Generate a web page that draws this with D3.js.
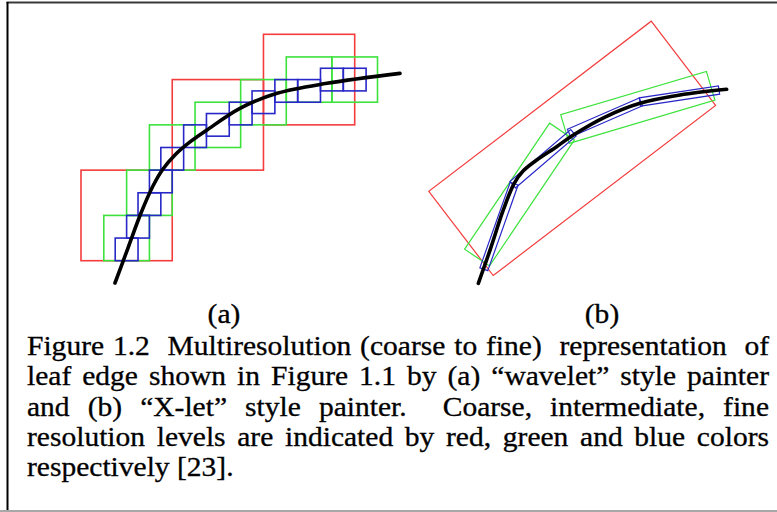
<!DOCTYPE html>
<html>
<head>
<meta charset="utf-8">
<script src="https://cdn.jsdelivr.net/npm/d3@7"></script>
<style>
  html, body { margin: 0; padding: 0; background: #fff; }
  svg { display: block; }
  .cap { font-family: "Liberation Serif", "Times New Roman", serif; }
</style>
</head>
<body>
<svg id="fig" width="777" height="512"></svg>
<script>
// ---- Panel (a): dyadic cells, lower-left corner in fine-grid units ----
const coarseCells = [[0, 0], [8, 8], [16, 12]];
const midCells = [[2, 0], [4, 4], [6, 8], [10, 10], [14, 12], [18, 14], [22, 14]];
const fineCells = [[3, 0], [4, 2], [5, 4], [6, 6], [7, 8], [9, 10], [11, 11],
                   [13, 12], [15, 13], [17, 14], [19, 14], [21, 15], [23, 15]];
const cellSizes = [8, 4, 2];            // coarse, intermediate, fine
const edgeA = [[2.98, -1.97], [4.12, 1.12], [5.26, 4.21], [6.31, 6.6], [7.19, 8.1],
               [8.24, 9.34], [9.56, 10.49], [11.05, 11.55], [13.94, 13.46],
               [17.19, 14.79], [21.57, 15.67], [27.97, 16.55]];

// ---- Panel (b): oriented boxes [cx, cy, length, width, angle in degrees] ----
const coarseBoxes = [[13.41, 12.48, 24.67, 9.34, 37.4]];
const midBoxes = [[8.77, 8.41, 13.39, 2.64, 56], [19.19, 16.09, 13.39, 2.64, 16.5]];
const fineBoxes = [[6.96, 5.6, 8.0, 0.74, 70.5], [10.84, 11.56, 7.05, 0.74, 40.5],
                   [16.3, 15.2, 6.9, 0.74, 23.5], [22.86, 17.09, 7.05, 0.74, 8.6]];
const edgeB = [[5.14, 0.59], [6.17, 3.52], [7.34, 7.05], [8.3, 9.4], [9.1, 10.5],
               [10.28, 11.45], [12.04, 12.63], [13.51, 13.66], [16.3, 15.24],
               [19.38, 16.45], [22.9, 17.18], [27.02, 17.68]];

// ---- Text ----
const panelLabels = ["(a)", "(b)"];
const captionLines = [
  "Figure 1.2  Multiresolution (coarse to fine)  representation  of",
  "leaf edge shown in Figure 1.1 by (a) \u201cwavelet\u201d style painter",
  "and (b) \u201cX-let\u201d style painter.  Coarse, intermediate, fine",
  "resolution levels are indicated by red, green and blue colors",
  "respectively [23]."
];

const levelColors = ["#f43c3c", "#3de23d", "#2828c8"];

const svg = d3.select("#fig");

// page frame
svg.append("line").attr("x1", 0).attr("x2", 777).attr("y1", 511).attr("y2", 511)
  .attr("stroke", "#a8a8a8").attr("stroke-width", 2);
svg.append("line").attr("x1", 6.5).attr("x2", 777).attr("y1", 2.5).attr("y2", 2.5)
  .attr("stroke", "#3a3a3a").attr("stroke-width", 2);
svg.append("line").attr("x1", 7.5).attr("x2", 7.5).attr("y1", 2).attr("y2", 510)
  .attr("stroke", "#000").attr("stroke-width", 2);

// ---- Panel (a) ----
const xa = d3.scaleLinear().domain([0, 24]).range([81, 354.7]);
const ya = d3.scaleLinear().domain([0, 20]).range([260.7, 34.3]);
const gA = svg.append("g");

[coarseCells, midCells, fineCells].forEach((cells, i) => {
  const s = cellSizes[i];
  gA.append("g").selectAll("rect").data(cells).join("rect")
    .attr("x", d => xa(d[0]))
    .attr("y", d => ya(d[1] + s))
    .attr("width", d => xa(d[0] + s) - xa(d[0]))
    .attr("height", d => ya(d[1]) - ya(d[1] + s))
    .attr("fill", "none")
    .attr("stroke", levelColors[i])
    .attr("stroke-width", 1.6);
});

const smooth = d3.curveCatmullRom.alpha(0.5);

gA.append("path")
  .datum(edgeA)
  .attr("d", d3.line().x(d => xa(d[0])).y(d => ya(d[1])).curve(smooth))
  .attr("fill", "none").attr("stroke", "#000").attr("stroke-width", 3.6)
  .attr("stroke-linecap", "round");

// ---- Panel (b) ----
const xb = d3.scaleLinear().domain([0, 28]).range([420, 737.8]);
const yb = d3.scaleLinear().domain([0, 24]).range([290, 17.6]);
const gB = svg.append("g");

function boxCorners(b) {
  const [cx, cy, len, wid, ang] = b;
  const a = ang * Math.PI / 180;
  const ux = Math.cos(a), uy = Math.sin(a);
  const px = -uy, py = ux;
  const hl = len / 2, hw = wid / 2;
  return [[-1, -1], [1, -1], [1, 1], [-1, 1]].map(([s, t]) =>
    [cx + s * hl * ux + t * hw * px, cy + s * hl * uy + t * hw * py]);
}
const boxLine = d3.line().x(d => xb(d[0])).y(d => yb(d[1])).curve(d3.curveLinearClosed);

[coarseBoxes, midBoxes, fineBoxes].forEach((boxes, i) => {
  gB.append("g").selectAll("path").data(boxes).join("path")
    .attr("d", d => boxLine(boxCorners(d)))
    .attr("fill", "none")
    .attr("stroke", levelColors[i])
    .attr("stroke-width", 1.2);
});

gB.append("path")
  .datum(edgeB)
  .attr("d", d3.line().x(d => xb(d[0])).y(d => yb(d[1])).curve(smooth))
  .attr("fill", "none").attr("stroke", "#000").attr("stroke-width", 3.6)
  .attr("stroke-linecap", "round");

// ---- Labels and caption ----
const fontSize = 26.6, sx = 1.11;

function styleText(t) {
  return t.attr("class", "cap").attr("font-size", fontSize)
    .attr("fill", "#000").attr("stroke", "#000").attr("stroke-width", 0.3);
}

[224, 602].forEach((cx, i) => {
  styleText(svg.append("g").attr("transform", `translate(${cx},323) scale(${sx},1)`)
    .append("text").attr("text-anchor", "middle"))
    .text(panelLabels[i]);
});

const textLeft = 27, textRight = 769;
const baseline0 = 355, lineStep = 30.3;

captionLines.forEach((line, li) => {
  const g = svg.append("g")
    .attr("transform", `translate(${textLeft},${baseline0 + li * lineStep}) scale(${sx},1)`);
  const parts = line.split(" ");
  const words = [];
  let sp = 0;
  parts.forEach(p => {
    if (p === "") { sp++; }
    else { words.push({ t: p, sp: words.length ? sp + 1 : 0 }); sp = 0; }
  });
  const nodes = words.map(w => styleText(g.append("text")).text(w.t));
  const widths = nodes.map(n => n.node().getComputedTextLength());
  const spaceW = 0.25 * fontSize;
  const totalSp = d3.sum(words, w => w.sp);
  const natural = d3.sum(widths) + totalSp * spaceW;
  const avail = (textRight - textLeft) / sx;
  const justify = li < captionLines.length - 1;
  const extra = justify && totalSp > 0 ? (avail - natural) / totalSp : 0;
  let x = 0;
  nodes.forEach((n, i) => {
    x += words[i].sp * (spaceW + extra);
    n.attr("x", x);
    x += widths[i];
  });
});
</script>
</body>
</html>
